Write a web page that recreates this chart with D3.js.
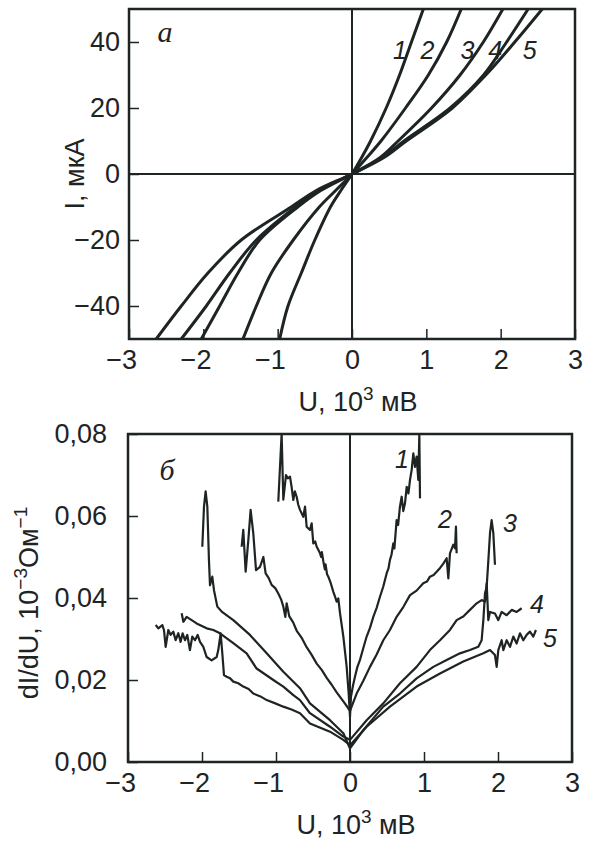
<!DOCTYPE html>
<html>
<head>
<meta charset="utf-8">
<script src="https://cdnjs.cloudflare.com/ajax/libs/d3/7.8.5/d3.min.js"></script>
<style>
	body { margin: 0; background: #fff; }
	svg { display: block; }
	text { font-family: "Liberation Sans", Arial, sans-serif; fill: #1e2424; }
</style>
</head>
<body>
<div id="chart"></div>
<script>
// ticks
var uTicks = [-3, -2, -1, 0, 1, 2, 3];
var iTicks = [-40, -20, 0, 20, 40];
var gTicks = [0, 0.02, 0.04, 0.06, 0.08];

// panel a: I(U), U in 10^3 mV, I in uA
var iv1 = [[-0.973, -50], [-0.861, -40], [-0.682, -30], [-0.5, -20], [-0.29, -10], [-0.15, -5], [0, 0], [0.13, 5], [0.25, 10], [0.46, 20], [0.64, 30], [0.8, 40], [0.96, 50]];
var iv2 = [[-1.467, -50], [-1.287, -40], [-1.085, -30], [-0.79, -20], [-0.44, -10], [-0.22, -5], [0, 0], [0.2, 5], [0.39, 10], [0.72, 20], [1.027, 30], [1.274, 40], [1.47, 50]];
var iv3 = [[-2.028, -50], [-1.78, -40], [-1.534, -30], [-1.242, -20], [-0.73, -10], [-0.42, -5], [0, 0], [0.38, 5], [0.62, 10], [1.07, 20], [1.454, 30], [1.767, 40], [2.03, 50]];
var iv4 = [[-2.297, -50], [-1.96, -40], [-1.646, -30], [-1.287, -20], [-0.76, -10], [-0.45, -5], [0, 0], [0.41, 5], [0.7, 10], [1.32, 20], [1.77, 30], [2.08, 40], [2.37, 50]];
var iv5 = [[-2.634, -50], [-2.297, -40], [-1.938, -30], [-1.49, -20], [-0.818, -10], [-0.48, -5], [0, 0], [0.43, 5], [0.73, 10], [1.35, 20], [1.8, 30], [2.19, 40], [2.56, 50]];

// panel b: dI/dU, 10^-3 Ohm^-1
var didu1 = [[-0.969, 0.0635], [-0.924, 0.0800], [-0.901, 0.064], [-0.865, 0.070], [-0.84, 0.0692], [-0.811, 0.0696], [-0.79, 0.0672], [-0.766, 0.0639], [-0.745, 0.0660], [-0.721, 0.0647], [-0.7, 0.0628], [-0.676, 0.0615], [-0.631, 0.0598], [-0.608, 0.0623], [-0.586, 0.0574], [-0.541, 0.0566], [-0.518, 0.0582], [-0.496, 0.0533], [-0.47, 0.0538], [-0.45, 0.0525], [-0.43, 0.0518], [-0.405, 0.0509], [-0.39, 0.0500], [-0.38, 0.0512], [-0.36, 0.0489], [-0.34, 0.0470], [-0.33, 0.0482], [-0.31, 0.0458], [-0.293, 0.0452], [-0.26, 0.0436], [-0.225, 0.0415], [-0.2, 0.0402], [-0.18, 0.0391], [-0.158, 0.0399], [-0.135, 0.0363], [-0.09, 0.0306], [-0.045, 0.0232], [-0.018, 0.0167], [0, 0.011], [0.013, 0.0159], [0.04, 0.0186], [0.067, 0.0208], [0.1, 0.0232], [0.135, 0.0249], [0.18, 0.0278], [0.225, 0.0306], [0.27, 0.0327], [0.315, 0.0354], [0.36, 0.0376], [0.405, 0.0403], [0.45, 0.0428], [0.495, 0.046], [0.52, 0.0472], [0.54, 0.0493], [0.56, 0.0505], [0.585, 0.0533], [0.6, 0.0521], [0.63, 0.059], [0.65, 0.0578], [0.675, 0.0623], [0.698, 0.0647], [0.72, 0.0612], [0.743, 0.0631], [0.766, 0.0671], [0.79, 0.0655], [0.811, 0.0688], [0.833, 0.0712], [0.856, 0.0753], [0.878, 0.072], [0.9, 0.0745], [0.923, 0.0688], [0.937, 0.080], [0.946, 0.0643]];
var didu2 = [[-1.464, 0.0525], [-1.442, 0.0566], [-1.41, 0.0464], [-1.374, 0.0541], [-1.343, 0.0615], [-1.307, 0.0558], [-1.27, 0.0468], [-1.216, 0.0476], [-1.171, 0.05], [-1.14, 0.046], [-1.1, 0.0449], [-1.059, 0.0432], [-1.01, 0.0424], [-0.969, 0.0411], [-0.93, 0.0396], [-0.901, 0.0379], [-0.874, 0.0354], [-0.856, 0.0387], [-0.82, 0.0355], [-0.77, 0.0341], [-0.72, 0.032], [-0.65, 0.0302], [-0.586, 0.028], [-0.52, 0.0262], [-0.45, 0.024], [-0.38, 0.0224], [-0.315, 0.0205], [-0.25, 0.0189], [-0.18, 0.017], [-0.07, 0.0143], [0, 0.0125], [0.09, 0.0167], [0.18, 0.0198], [0.27, 0.0232], [0.36, 0.0262], [0.45, 0.0297], [0.54, 0.0322], [0.63, 0.0354], [0.72, 0.0378], [0.811, 0.0407], [0.9, 0.0418], [0.99, 0.0436], [1.04, 0.0440], [1.08, 0.0452], [1.13, 0.0456], [1.171, 0.0464], [1.22, 0.0474], [1.261, 0.0484], [1.306, 0.0497], [1.329, 0.0448], [1.351, 0.0509], [1.396, 0.053], [1.419, 0.0521], [1.432, 0.0574], [1.441, 0.0509]];
var didu3 = [[-1.996, 0.0525], [-1.973, 0.0623], [-1.951, 0.066], [-1.928, 0.0623], [-1.906, 0.0492], [-1.892, 0.0431], [-1.861, 0.0452], [-1.838, 0.0419], [-1.793, 0.0379], [-1.734, 0.0367], [-1.577, 0.0346], [-1.352, 0.031], [-1.126, 0.0265], [-0.901, 0.022], [-0.676, 0.018], [-0.541, 0.0143], [-0.27, 0.0102], [-0.09, 0.007], [0, 0.0033], [0.181, 0.0078], [0.45, 0.0135], [0.675, 0.0167], [0.9, 0.0204], [1.126, 0.0232], [1.306, 0.0249], [1.486, 0.0265], [1.621, 0.0273], [1.734, 0.0281], [1.779, 0.0297], [1.802, 0.0346], [1.824, 0.0411], [1.847, 0.0427], [1.869, 0.049], [1.892, 0.0558], [1.914, 0.059], [1.937, 0.0558], [1.959, 0.0481]];
var didu4 = [[-2.275, 0.0363], [-2.252, 0.0342], [-2.208, 0.0354], [-2.14, 0.0346], [-2.073, 0.0338], [-1.937, 0.0326], [-1.847, 0.0322], [-1.757, 0.0314], [-1.577, 0.029], [-1.397, 0.0265], [-1.262, 0.0228], [-1.036, 0.02], [-0.901, 0.0184], [-0.766, 0.0163], [-0.676, 0.0151], [-0.541, 0.0119], [-0.27, 0.0086], [-0.09, 0.0062], [0, 0.0054], [0.225, 0.0102], [0.45, 0.0143], [0.675, 0.0192], [0.9, 0.0232], [1.08, 0.0273], [1.216, 0.0297], [1.351, 0.0322], [1.441, 0.0346], [1.531, 0.0355], [1.621, 0.0371], [1.712, 0.0387], [1.779, 0.0395], [1.824, 0.0391], [1.847, 0.0436], [1.869, 0.0346], [1.892, 0.0366], [1.959, 0.0362], [2.004, 0.0346], [2.049, 0.0366], [2.117, 0.0358], [2.185, 0.0371], [2.252, 0.0366], [2.32, 0.0375]];
var didu5 = [[-2.626, 0.0334], [-2.59, 0.0326], [-2.536, 0.0334], [-2.514, 0.0322], [-2.491, 0.0281], [-2.455, 0.0322], [-2.424, 0.031], [-2.388, 0.0318], [-2.356, 0.0297], [-2.32, 0.0314], [-2.289, 0.0293], [-2.262, 0.0314], [-2.23, 0.0297], [-2.199, 0.031], [-2.163, 0.0273], [-2.131, 0.0306], [-2.095, 0.0297], [-2.059, 0.031], [-2.027, 0.0293], [-1.982, 0.0281], [-1.937, 0.0256], [-1.87, 0.0248], [-1.802, 0.0256], [-1.78, 0.0273], [-1.748, 0.0314], [-1.725, 0.0264], [-1.703, 0.0212], [-1.667, 0.0208], [-1.62, 0.0204], [-1.577, 0.0196], [-1.51, 0.0192], [-1.442, 0.0184], [-1.37, 0.0178], [-1.307, 0.0167], [-1.21, 0.016], [-1.126, 0.0151], [-1.01, 0.0143], [-0.901, 0.0135], [-0.79, 0.0128], [-0.676, 0.0119], [-0.541, 0.0094], [-0.27, 0.0074], [-0.09, 0.0054], [0, 0.0041], [0.225, 0.0086], [0.54, 0.0135], [0.9, 0.0184], [1.216, 0.0216], [1.531, 0.0245], [1.802, 0.0265], [1.892, 0.0273], [1.959, 0.0261], [1.982, 0.0232], [2.004, 0.0273], [2.049, 0.0297], [2.072, 0.0273], [2.117, 0.0297], [2.162, 0.0281], [2.207, 0.0306], [2.252, 0.0289], [2.297, 0.0314], [2.342, 0.0297], [2.387, 0.031], [2.432, 0.0318], [2.477, 0.0306], [2.513, 0.0322]];

// curve numbers, placed in data units
var curveNames = ['1', '2', '3', '4', '5'];
var ivLabelU = [0.646, 1.016, 1.554, 1.925, 2.389];
var ivLabelI = [35, 35, 35, 35, 35];
var diduLabelU = [0.703, 1.284, 2.162, 2.527, 2.703];
var diduLabelG = [0.0717, 0.0571, 0.0561, 0.0363, 0.028];

var ink = '#1e2424';
var fontSize = 27;

var svg = d3.select('#chart')
	.append('svg')
	.attr('width', 590)
	.attr('height', 846);

svg.append('rect').attr('width', 590).attr('height', 846).attr('fill', '#fff');

function minusFormat(d) {
	return d < 0 ? '\u2212' + Math.abs(d) : String(d);
}

function commaFormat(d) {
	return d3.format('.2f')(d).replace('.', ',');
}

function drawPanel(p) {
	var g = svg.append('g');
	var x = d3.scaleLinear().domain([-3, 3]).range(p.xRange);
	var y = d3.scaleLinear().domain(p.yDomain).range(p.yRange);
	var clipId = p.id + '-clip';

	g.append('clipPath')
		.attr('id', clipId)
		.append('rect')
		.attr('x', p.xRange[0])
		.attr('y', p.yRange[1])
		.attr('width', p.xRange[1] - p.xRange[0])
		.attr('height', p.yRange[0] - p.yRange[1]);

	// zero lines
	g.append('line')
		.attr('x1', x(0)).attr('x2', x(0))
		.attr('y1', p.yRange[0]).attr('y2', p.yRange[1])
		.attr('stroke', ink).attr('stroke-width', 2);

	if (p.yDomain[0] < 0) {
		g.append('line')
			.attr('x1', p.xRange[0]).attr('x2', p.xRange[1])
			.attr('y1', y(0)).attr('y2', y(0))
			.attr('stroke', ink).attr('stroke-width', 2);
	}

	var line = d3.line()
		.x(function(d) { return x(d[0]); })
		.y(function(d) { return y(d[1]); })
		.curve(p.curve);

	g.append('g')
		.attr('clip-path', 'url(#' + clipId + ')')
		.selectAll('path')
		.data(p.series)
		.join('path')
		.attr('d', line)
		.attr('fill', 'none')
		.attr('stroke', ink)
		.attr('stroke-width', p.lineWidth)
		.attr('stroke-linejoin', 'round');

	// axes
	var xAxis = g.append('g')
		.attr('transform', 'translate(0,' + p.yRange[0] + ')')
		.call(d3.axisBottom(x).tickValues(uTicks).tickSize(-10).tickSizeOuter(0).tickPadding(11).tickFormat(minusFormat));

	var yAxis = g.append('g')
		.attr('transform', 'translate(' + p.xRange[0] + ',0)')
		.call(d3.axisLeft(y).tickValues(p.yTicks).tickSize(-10).tickSizeOuter(0).tickPadding(p.labelPad).tickFormat(p.yFormat));

	[xAxis, yAxis].forEach(function(a) {
		a.attr('font-size', null).attr('font-family', null);
		a.select('.domain').remove();
		a.selectAll('.tick line').attr('stroke', ink).attr('stroke-width', 1.5);
		a.selectAll('.tick text').attr('fill', ink).style('font-size', fontSize + 'px');
	});

	xAxis.selectAll('.tick text')
		.attr('dx', function(d) { return d < 0 ? '-0.29em' : 0; });

	// frame
	g.append('rect')
		.attr('x', p.xRange[0])
		.attr('y', p.yRange[1])
		.attr('width', p.xRange[1] - p.xRange[0])
		.attr('height', p.yRange[0] - p.yRange[1])
		.attr('fill', 'none')
		.attr('stroke', ink)
		.attr('stroke-width', 2.5);

	// curve numbers
	g.selectAll('.num')
		.data(curveNames)
		.join('text')
		.attr('class', 'num')
		.attr('x', function(d, i) { return x(p.labelU[i]); })
		.attr('y', function(d, i) { return y(p.labelV[i]); })
		.attr('text-anchor', 'middle')
		.style('font-size', '25px')
		.style('font-style', 'italic')
		.text(function(d) { return d; });

	// panel letter
	g.append('text')
		.attr('x', x(p.letterAt[0]))
		.attr('y', y(p.letterAt[1]))
		.attr('text-anchor', 'middle')
		.style('font-family', '"Liberation Serif", "Times New Roman", serif')
		.style('font-style', 'italic')
		.style('font-size', '30px')
		.text(p.letter);

	// x title
	var xt = g.append('text')
		.attr('x', (p.xRange[0] + p.xRange[1]) / 2 + 6)
		.attr('y', p.yRange[0] + 72)
		.attr('text-anchor', 'middle')
		.style('font-size', fontSize + 'px');
	xt.append('tspan').text('U, 10');
	xt.append('tspan').attr('dy', -11).style('font-size', '19px').text('3');
	xt.append('tspan').attr('dy', 11).text(' мВ');

	// y title
	var yt = g.append('text')
		.attr('transform', 'translate(' + p.yTitleX + ',' + p.yTitleY + ') rotate(-90)')
		.attr('text-anchor', 'middle')
		.style('font-size', fontSize + 'px');
	p.yTitle.forEach(function(part) {
		if (part.sup) {
			yt.append('tspan').attr('dy', -11).style('font-size', '19px').text(part.t);
		} else {
			yt.append('tspan').attr('dy', part.back ? 11 : 0).text(part.t);
		}
	});
}

drawPanel({
	id: 'a',
	xRange: [129, 575],
	yRange: [339, 9],
	yDomain: [-50, 50],
	yTicks: iTicks,
	yFormat: minusFormat,
	labelPad: 9,
	series: [iv1, iv2, iv3, iv4, iv5],
	curve: d3.curveCatmullRom.alpha(0.5),
	lineWidth: 3,
	labelU: ivLabelU,
	labelV: ivLabelI,
	letter: 'а',
	letterAt: [-2.517, 39.9],
	yTitleX: 84,
	yTitleY: 174,
	yTitle: [{t: 'I, мкА'}]
});

drawPanel({
	id: 'b',
	xRange: [128, 572],
	yRange: [762, 434],
	yDomain: [0, 0.08],
	yTicks: gTicks,
	yFormat: commaFormat,
	labelPad: 21,
	series: [didu1, didu2, didu3, didu4, didu5],
	curve: d3.curveLinear,
	lineWidth: 2.2,
	labelU: diduLabelU,
	labelV: diduLabelG,
	letter: 'б',
	letterAt: [-2.473, 0.0688],
	yTitleX: 38,
	yTitleY: 603,
	yTitle: [{t: 'dI/dU, 10'}, {t: '\u22123', sup: true}, {t: 'Ом', back: true}, {t: '\u22121', sup: true}]
});
</script>
</body>
</html>
